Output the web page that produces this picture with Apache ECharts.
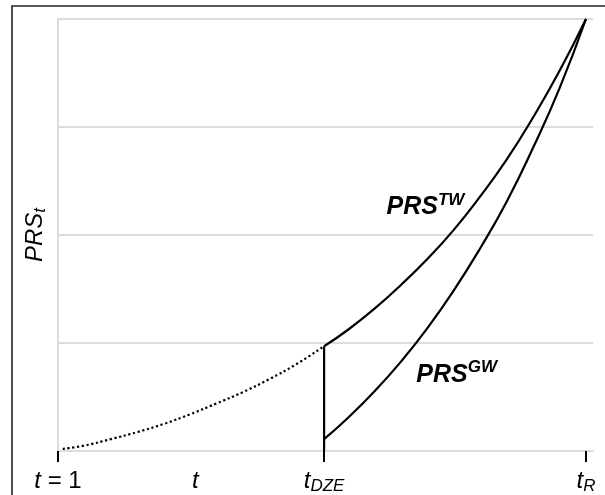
<!DOCTYPE html>
<html><head><meta charset="utf-8">
<script src="https://cdn.jsdelivr.net/npm/echarts@6/dist/echarts.min.js"></script>
<style>html,body{margin:0;padding:0;background:#fff}#c{width:605px;height:495px}</style>
</head><body><div id="c"></div>
<script>
// ---- data (x in axis units: t=1 -> 0, tR -> 100; y in gridline units) ----
const preX = [0.9, 5, 10, 15, 20, 25, 30, 35, 40, 45, 50.4];
const preY = [0.02, 0.05, 0.11, 0.175, 0.25, 0.34, 0.44, 0.545, 0.665, 0.80, 0.97];
const twX = [50.4, 55, 60, 65, 70, 75, 80, 85, 90, 95, 100];
const twY = [0.97, 1.125, 1.32, 1.54, 1.78, 2.05, 2.36, 2.70, 3.09, 3.52, 4.0];
const gwX = [50.4, 55, 60, 65, 70, 75, 80, 85, 90, 95, 100];
const gwY = [0.11, 0.31, 0.555, 0.83, 1.14, 1.49, 1.88, 2.31, 2.81, 3.36, 4.0];
const dzeX = [50.4, 50.4];
const dzeY = [0.97, 0];
const xTickValues = [0, 50.4, 100];
const xLabelValues = [0, 26, 50.4, 100];
const xLabelTexts = ['{i|t}{n| = 1}', '{i|t}', '{i|t}{s|DZE}', '{i|t}{s|R}'];
const yTicks = [0, 1, 2, 3, 4];
const labelTW = {x: 69.6, y: 2.27, text: '{b|PRS}{sup|TW}'};
const labelGW = {x: 75.5, y: 0.72, text: '{b|PRS}{sup|GW}'};

const zip = (xs, ys) => xs.map((x, i) => [x, ys[i]]);
const FONT = 'Liberation Sans, Arial, sans-serif';
const chart = echarts.init(document.getElementById('c'));
const lineBase = {type: 'line', showSymbol: false, symbol: 'none', silent: true, animation: false};
const annot = (a) => ({
  type: 'scatter', symbolSize: 0, silent: true, animation: false,
  itemStyle: {opacity: 1},
  data: [[a.x, a.y]],
  label: {show: true, position: 'inside', formatter: a.text, color: '#000', opacity: 1, textBorderWidth: 0,
    rich: {
      b: {fontFamily: FONT, fontSize: 25, fontWeight: 'bold', fontStyle: 'italic', color: '#000', textBorderWidth: 0, verticalAlign: 'bottom', lineHeight: 28},
      sup: {fontFamily: FONT, fontSize: 17, fontWeight: 'bold', fontStyle: 'italic', color: '#000', textBorderWidth: 0, verticalAlign: 'top', lineHeight: 28, padding: [0, 0, 8, 0]}
    }}
});
chart.setOption({
  backgroundColor: '#fff',
  animation: false,
  grid: {left: 58, right: 12, top: 19, bottom: 43, containLabel: false},
  graphic: [{type: 'rect', shape: {x: 12, y: 6, width: 700, height: 600},
    style: {fill: 'none', stroke: '#222', lineWidth: 1.6}, z: 100}],
  xAxis: {
    type: 'value', min: 0, max: 101.33,
    axisLine: {show: true, lineStyle: {color: '#dcdcdc', width: 2}},
    splitLine: {show: false},
    axisTick: {show: true, customValues: xTickValues, length: 11, lineStyle: {color: '#000', width: 2}},
    axisLabel: {show: true, customValues: xLabelValues, margin: 16,
      formatter: (v) => { const i = xLabelValues.findIndex(u => Math.abs(u - v) < 1e-6); return i >= 0 ? xLabelTexts[i] : ''; },
      rich: {
        i: {fontFamily: FONT, fontSize: 24, fontStyle: 'italic', color: '#000', lineHeight: 28},
        n: {fontFamily: FONT, fontSize: 24, color: '#000', lineHeight: 28},
        s: {fontFamily: FONT, fontSize: 17, fontStyle: 'italic', color: '#000', lineHeight: 28, verticalAlign: 'bottom', padding: [13, 0, 0, 0]}
      }}
  },
  yAxis: {
    type: 'value', min: yTicks[0], max: yTicks[yTicks.length - 1], interval: 1,
    axisLine: {show: true, lineStyle: {color: '#dcdcdc', width: 2}},
    axisTick: {show: false}, axisLabel: {show: false},
    splitLine: {show: true, lineStyle: {color: '#dcdcdc', width: 2}},
    name: '{i|PRS}{s|t}', nameLocation: 'middle', nameGap: 9, nameRotate: 90,
    nameTextStyle: {rich: {
      i: {fontFamily: FONT, fontSize: 24, fontStyle: 'italic', color: '#000', lineHeight: 28},
      s: {fontFamily: FONT, fontSize: 17, fontStyle: 'italic', color: '#000', lineHeight: 28, verticalAlign: 'bottom', padding: [11, 0, 0, 0]}
    }}
  },
  series: [
    Object.assign({}, lineBase, {data: zip(preX, preY), smooth: true, lineStyle: {color: '#000', width: 2.2, type: [2.2, 2.6]}}),
    Object.assign({}, lineBase, {data: zip(twX, twY), smooth: true, lineStyle: {color: '#000', width: 2.2}}),
    Object.assign({}, lineBase, {data: zip(gwX, gwY), smooth: true, lineStyle: {color: '#000', width: 2.2}}),
    Object.assign({}, lineBase, {data: zip(dzeX, dzeY), lineStyle: {color: '#000', width: 2.2}}),
    annot(labelTW), annot(labelGW)
  ]
});
</script></body></html>
